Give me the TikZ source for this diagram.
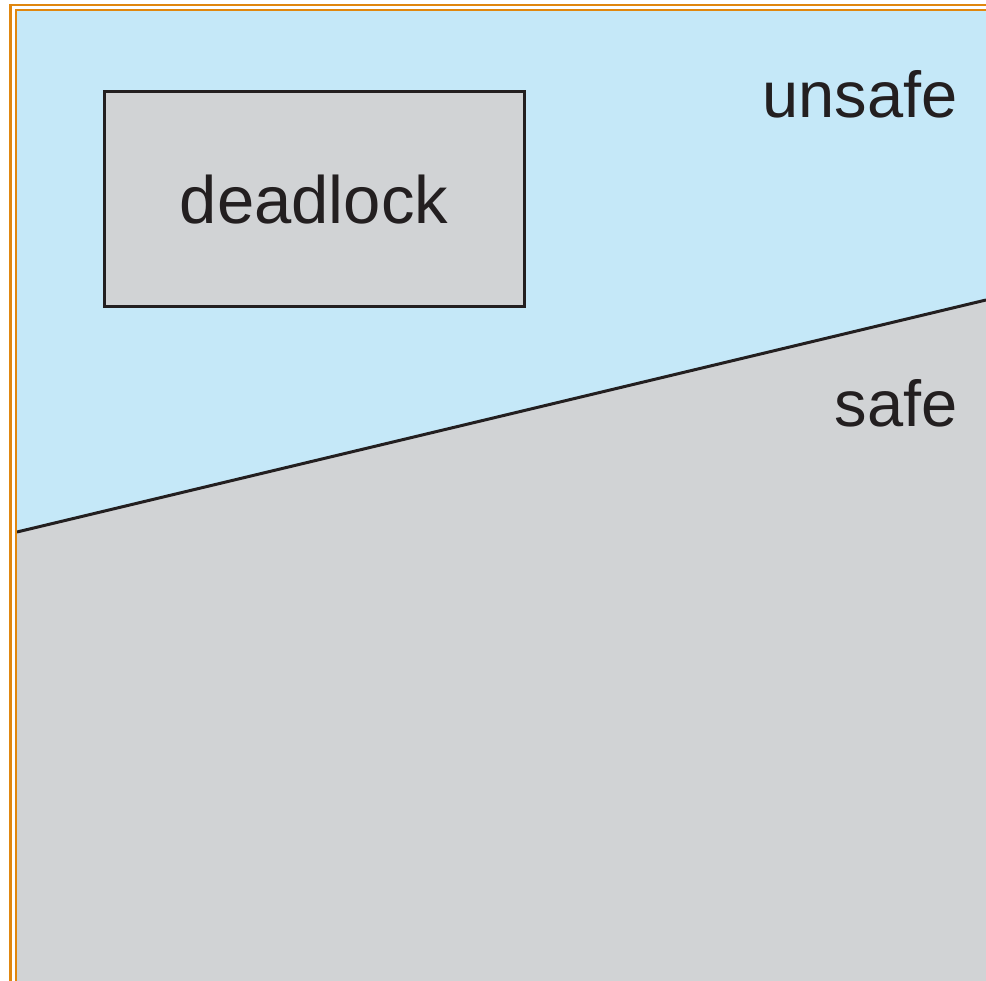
\documentclass[tikz,border=0pt]{standalone}
\usepackage{fontspec}
\setmainfont{Liberation Sans}
\definecolor{skyfill}{HTML}{C5E8F8}
\definecolor{grayfill}{HTML}{D1D3D5}
\definecolor{frameorange}{HTML}{E0870F}
\definecolor{inkdark}{HTML}{231F20}
\begin{document}
\begin{tikzpicture}[x=1pt,y=-1pt,
  lbl/.style={font=\fontsize{65}{70}\selectfont, text=inkdark, inner sep=0pt},
  regionbox/.style={draw=inkdark, line width=3pt, fill=grayfill, minimum width=420pt, minimum height=215pt, inner sep=0pt, font=\fontsize{67}{72}\selectfont, text=inkdark},
  frameline/.style={draw=frameorange, line width=2.5pt}]
\useasboundingbox (0,0) rectangle (986,981);
\fill[white] (0,0) rectangle (986,981);
% regions
\coordinate (lt) at (17,11);
\coordinate (rt) at (986,11);
\coordinate (rb) at (986,981);
\coordinate (lb) at (17,981);
\coordinate (dl) at (17,532);
\coordinate (dr) at (986,300);
\fill[skyfill] (lt) -- (rt) -- (dr) -- (dl) -- cycle;
\fill[grayfill] (dl) -- (dr) -- (rb) -- (lb) -- cycle;
\draw[inkdark, line width=3pt] (dl) -- (dr);
% frame
\draw[frameline] (10.5,981) -- (10.5,5) -- (986,5);
\draw[frameline] (16,981) -- (16,10) -- (986,10);
% box and labels
\node[regionbox] (deadlock) at (314,199.5) {deadlock};
\node[lbl, anchor=base east] (unsafe) at (958,118) {unsafe};
\node[lbl, anchor=base east] (safe) at (958,427) {safe};
\end{tikzpicture}
\end{document}
